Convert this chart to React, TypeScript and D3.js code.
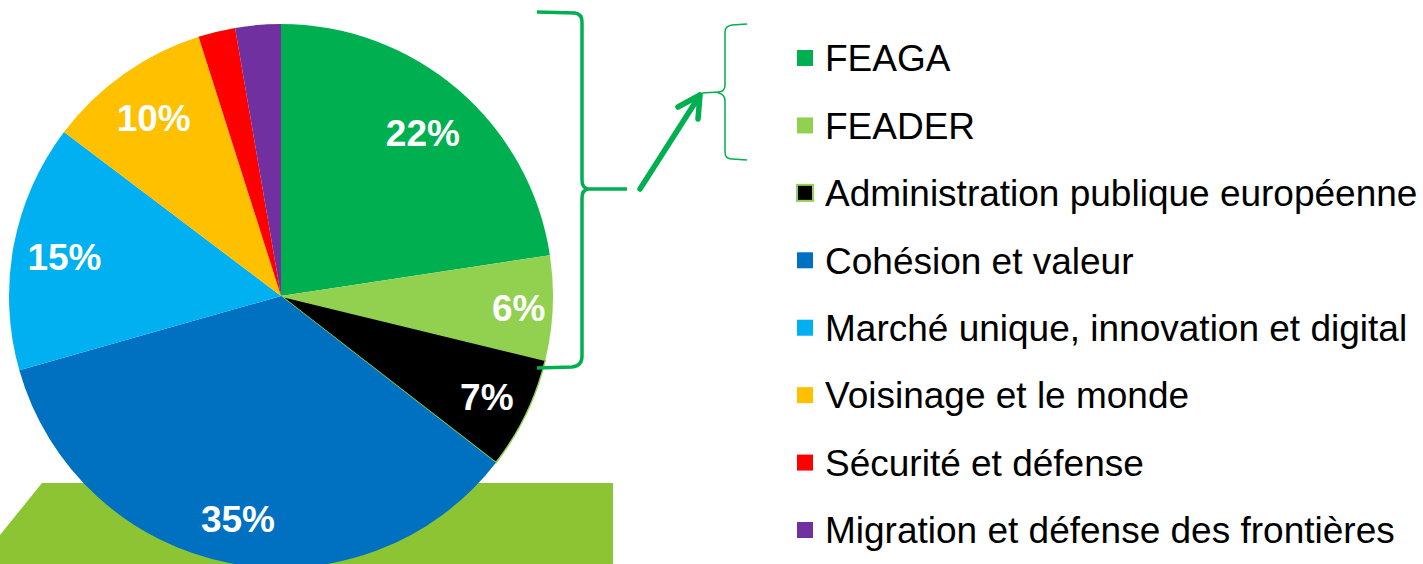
import React, { useEffect, useRef } from 'react';
import * as d3 from 'd3';

const categories = [
  'FEAGA',
  'FEADER',
  'Administration publique européenne',
  'Cohésion et valeur',
  'Marché unique, innovation et digital',
  'Voisinage et le monde',
  'Sécurité et défense',
  'Migration et défense des frontières',
];
const shares = [22.6, 6.2, 6.7, 35.1, 14.7, 9.8, 2.2, 2.7];
const sliceLabels = ['22%', '6%', '7%', '35%', '15%', '10%', '', ''];
const colors = ['#00B050', '#92D050', '#000000', '#0070C0', '#00B0F0', '#FFC000', '#FF0000', '#7030A0'];
// how far out each label sits, as a fraction of the radius
const labelRadius = [0.8, 0.875, 0.84, 0.83, 0.81, 0.81, 0.8, 0.8];

const App = () => {
  const svgRef = useRef<SVGSVGElement>(null);

  useEffect(() => {
    const svg = d3.select(svgRef.current);
    svg.selectAll('*').remove();

    const width = 1423;
    const height = 564;
    const cx = 281;
    const cy = 296;
    const radius = 272;
    const green = '#00B050';

    // green band behind the bottom of the pie
    svg.append('path')
      .attr('d', 'M42,483 L613,483 L613,564 L0,564 L0,535 Z')
      .attr('fill', '#8DC434');

    const data = categories.map((c, i) => ({ name: c, value: shares[i], label: sliceLabels[i], color: colors[i], lr: labelRadius[i] }));

    const pie = d3.pie<any>().value((d) => d.value).sort(null);
    const arcs = pie(data);
    const arc = d3.arc<any>().innerRadius(0).outerRadius(radius);
    const labelPos = (d: any) => {
      const r = radius * d.data.lr;
      return d3.arc<any>().innerRadius(r).outerRadius(r).centroid(d);
    };

    const g = svg.append('g').attr('transform', `translate(${cx},${cy})`);

    g.selectAll('path.slice')
      .data(arcs)
      .enter()
      .append('path')
      .attr('class', 'slice')
      .attr('d', arc)
      .attr('fill', (d) => d.data.color)
      .attr('stroke', (d) => (d.data.color === '#000000' ? '#92D050' : 'none'))
      .attr('stroke-width', 1.5);

    g.selectAll('text.lbl')
      .data(arcs.filter((d) => d.data.label))
      .enter()
      .append('text')
      .attr('class', 'lbl')
      .attr('transform', (d) => `translate(${labelPos(d)})`)
      .attr('text-anchor', 'middle')
      .attr('dy', '0.4em')
      .attr('fill', '#fff')
      .style('font-family', 'Liberation Sans, Arial, sans-serif')
      .style('font-weight', 'bold')
      .style('font-size', '37px')
      .text((d) => d.data.label);

    // big brace grouping FEAGA + FEADER
    svg.append('path')
      .attr('d', 'M537,12 L575,13 Q582,14 582,22 L582,180 Q582,188 588,189 L627,189 M588,189 Q582,190 582,198 L582,356 Q582,366 572,367 L537,368')
      .attr('fill', 'none')
      .attr('stroke', green)
      .attr('stroke-width', 3.5);

    // arrow
    svg.append('path')
      .attr('d', 'M640,189 L700,95 M678,107 L700,95 L698,119')
      .attr('fill', 'none')
      .attr('stroke', green)
      .attr('stroke-width', 5.5)
      .attr('stroke-linecap', 'round')
      .attr('stroke-linejoin', 'round');

    // small brace on legend side
    svg.append('path')
      .attr('d', 'M747,24 L732,25 Q725,26 725,32 L725,85 Q725,92 718,92 L702,93 M718,93 Q725,94 725,101 L725,152 Q725,159 732,159 L747,160')
      .attr('fill', 'none')
      .attr('stroke', green)
      .attr('stroke-width', 1.5);

    // legend
    const legendY = d3.scalePoint<string>().domain(categories).range([58, 530]);
    const legend = svg.append('g');
    const items = legend.selectAll('g.item')
      .data(data)
      .enter()
      .append('g')
      .attr('class', 'item')
      .attr('transform', (d) => `translate(797,${legendY(d.name)})`);

    items.append('rect')
      .attr('x', 0)
      .attr('y', -8)
      .attr('width', 16)
      .attr('height', 16)
      .attr('fill', (d) => d.color)
      .attr('stroke', (d) => (d.color === '#000000' ? '#92D050' : 'none'))
      .attr('stroke-width', 2);

    items.append('text')
      .attr('x', 28)
      .attr('dy', '0.36em')
      .attr('fill', '#000')
      .style('font-family', 'Liberation Sans, Arial, sans-serif')
      .style('font-size', '37px')
      .text((d) => d.name);

    svg.attr('width', width).attr('height', height);
  }, []);

  return (
    <svg
      ref={svgRef}
      width={1423}
      height={564}
      style={{ position: 'absolute', left: 0, top: 0, display: 'block', background: '#fff' }}
    />
  );
};

export default App;
